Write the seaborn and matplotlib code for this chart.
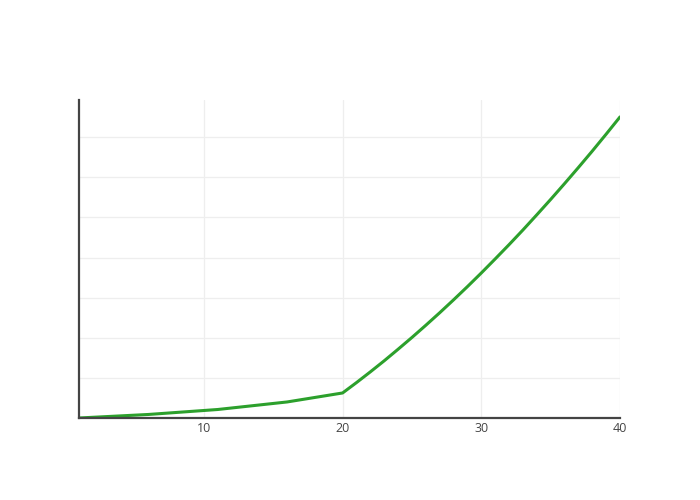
import matplotlib
matplotlib.use("Agg")
import matplotlib.pyplot as plt
import pandas as pd
import seaborn as sns

# values (y in arbitrary units, grid step 500)
x_vals = [1, 6, 11, 16, 20, 21, 22, 23, 24, 25, 26, 27, 28, 29, 30,
          31, 32, 33, 34, 35, 36, 37, 38, 39, 40]
y_vals = [0, 44, 106, 200, 312, 441, 575, 713, 857, 1004, 1156, 1312, 1473, 1638, 1808,
          1983, 2161, 2344, 2533, 2725, 2922, 3123, 3328, 3539, 3754]
x_ticks = [10, 20, 30, 40]
y_grid = [0, 500, 1000, 1500, 2000, 2500, 3000, 3500]

df = pd.DataFrame({"x": x_vals, "y": y_vals})

sns.set_style("white")
plt.rcParams["font.family"] = ["Open Sans", "DejaVu Sans"]

fig = plt.figure(figsize=(7, 5), dpi=100)
ax = fig.add_axes([79 / 700, 82 / 500, 541 / 700, 318 / 500])

sns.lineplot(data=df, x="x", y="y", ax=ax, color="#2ca02c", linewidth=2.2, zorder=3)

ax.set_xlim(1, 40)
ax.set_ylim(0, 3965)
ax.set_xticks(x_ticks)
ax.set_yticks(y_grid)
ax.set_yticklabels([])
ax.grid(True, color="#eeeeee", linewidth=0.9, zorder=0)
ax.set_axisbelow(True)
ax.tick_params(axis="both", length=0)
ax.tick_params(axis="x", labelsize=9, labelcolor="#444444", pad=3)
ax.set_xlabel("")
ax.set_ylabel("")

for side in ["top", "right"]:
    ax.spines[side].set_visible(False)
for side in ["left", "bottom"]:
    ax.spines[side].set_color("#444444")
    ax.spines[side].set_linewidth(1.6)
    ax.spines[side].set_zorder(4)

fig.savefig("out.png", dpi=100)
